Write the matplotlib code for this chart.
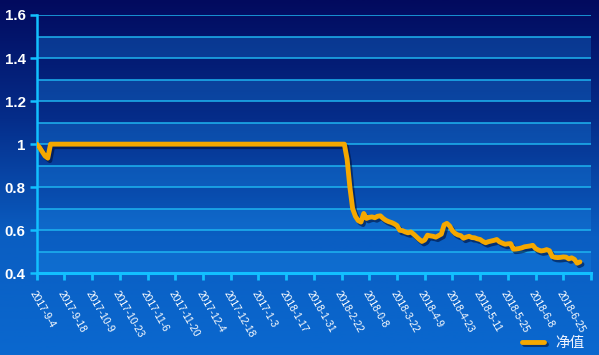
import numpy as np
import matplotlib
matplotlib.use("Agg")
import matplotlib.pyplot as plt
import matplotlib.patheffects as pe
from matplotlib.colors import LinearSegmentedColormap

# ---------------- data ----------------
tick_labels = ["2017-9-4", "2017-9-18", "2017-10-9", "2017-10-23", "2017-11-6",
               "2017-11-20", "2017-12-4", "2017-12-18", "2017-1-3", "2018-1-17",
               "2018-1-31", "2018-2-22", "2018-0-8", "2018-3-22", "2018-4-9",
               "2018-4-23", "2018-5-11", "2018-5-25", "2018-6-8", "2018-6-25"]

day_idx = [0, 1, 2, 3, 4, 5, 111, 112, 113, 114, 115, 116, 117, 118, 119, 120,
           121, 122, 123, 124, 125, 126, 127, 128, 129, 130, 131, 132, 133, 134,
           135, 136, 137, 138, 139, 140, 141, 142, 143, 144, 145, 146, 147, 148,
           149, 150, 151, 152, 153, 154, 155, 156, 157, 158, 159, 160, 161, 162,
           163, 164, 165, 166, 167, 168, 169, 170, 171, 172, 173, 174, 175, 176,
           177, 178, 179, 180, 181, 182, 183, 184, 185, 186, 187, 188, 189, 190,
           191, 192, 193, 194, 195, 196]
nav = [1.0, 0.985, 0.965, 0.945, 0.935, 1.0, 1.0, 0.93, 0.80, 0.70, 0.665, 0.645,
       0.638, 0.678, 0.655, 0.660, 0.662, 0.658, 0.665, 0.667, 0.655, 0.646,
       0.640, 0.636, 0.630, 0.622, 0.600, 0.598, 0.592, 0.588, 0.592, 0.582,
       0.570, 0.558, 0.548, 0.555, 0.577, 0.574, 0.572, 0.568, 0.575, 0.582,
       0.625, 0.632, 0.620, 0.598, 0.585, 0.578, 0.575, 0.563, 0.568, 0.572,
       0.566, 0.565, 0.560, 0.557, 0.548, 0.542, 0.547, 0.550, 0.553, 0.557,
       0.546, 0.540, 0.535, 0.537, 0.538, 0.512, 0.513, 0.515, 0.518, 0.523,
       0.525, 0.527, 0.530, 0.515, 0.508, 0.504, 0.506, 0.510, 0.505, 0.478,
       0.474, 0.473, 0.474, 0.476, 0.475, 0.467, 0.472, 0.465, 0.447, 0.453]
series_name = "净值"

# ---------------- figure ----------------
W, H = 599, 355
fig = plt.figure(figsize=(W / 100, H / 100), dpi=100)

# gradient background
bg = fig.add_axes([0, 0, 1, 1], zorder=-10)
cmap = LinearSegmentedColormap.from_list("bg", ["#020a5e", "#052d8a", "#0a5ec2", "#0a68cf"])
grad = np.linspace(0, 1, 256).reshape(-1, 1)
bg.imshow(grad, aspect="auto", cmap=cmap, extent=[0, 1, 0, 1], origin="upper")
bg.set_axis_off()

left, right, top, bottom = 36.7, 591, 15, 273.3
ax = fig.add_axes([left / W, 1 - bottom / H, (right - left) / W, (bottom - top) / H])
ax.set_facecolor("none")

ax.set_xlim(0, 200)
ax.set_ylim(0.4, 1.6)

# alternating split areas
for lo in np.arange(0.4, 1.6, 0.2):
    ax.axhspan(lo, lo + 0.1, color="#1a8ae8", alpha=0.3, lw=0, zorder=0)

# grid lines
for yv in np.arange(0.5, 1.61, 0.1):
    ax.axhline(yv, color="#1eb4f0", lw=1.1, zorder=1)

line_color = "#f5a800"
ax.plot(day_idx, nav, color=line_color, lw=3.5, solid_joinstyle="round",
        solid_capstyle="round", zorder=5, label=series_name,
        path_effects=[pe.SimpleLineShadow(offset=(1.5, -1.8), shadow_color="#000a30", alpha=0.55),
                      pe.Normal()])

# axes styling
for s in ["top", "right"]:
    ax.spines[s].set_visible(False)
axis_color = "#12c0ff"
ax.spines["left"].set_color(axis_color)
ax.spines["left"].set_linewidth(1.8)
ax.spines["bottom"].set_color(axis_color)
ax.spines["bottom"].set_linewidth(2.2)
ax.spines["bottom"].set_zorder(6)

yt = [0.4, 0.6, 0.8, 1.0, 1.2, 1.4, 1.6]
ax.set_yticks(yt)
ax.set_yticklabels([f"{v:g}" for v in yt], fontsize=10.8, fontweight="bold",
                   color="white", family="Liberation Sans")
ax.tick_params(axis="y", length=5, width=1.8, color=axis_color, pad=3)

xt = np.arange(0, 201, 10)
ax.set_xticks(xt)
ax.set_xticklabels(tick_labels + [""], rotation=-60, ha="left", va="top",
                   rotation_mode="anchor", fontsize=7.4, color="white",
                   family="Liberation Sans")
ax.tick_params(axis="x", length=5, width=2, color=axis_color, pad=6)

leg = fig.legend(loc="center right", bbox_to_anchor=(585 / W, 1 - 343 / H),
                 frameon=False, handlelength=1.5, handletextpad=0.8, borderaxespad=0,
                 borderpad=0,
                 prop={"family": ["Noto Sans CJK SC", "DejaVu Sans"], "size": 10.5})
for t in leg.get_texts():
    t.set_color("#f0f4ff")

fig.savefig("out.png", dpi=100)
